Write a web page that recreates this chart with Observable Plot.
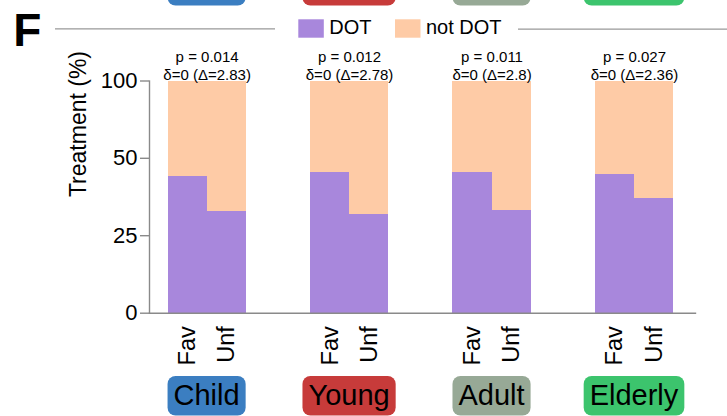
<!DOCTYPE html>
<html>
<head>
<meta charset="utf-8">
<script src="https://cdn.jsdelivr.net/npm/d3@7"></script>
<script src="https://cdn.jsdelivr.net/npm/@observablehq/plot@0.6"></script>
<style>
  html, body { margin: 0; padding: 0; background: #fff; overflow: hidden; }
  #chart { width: 727px; height: 416px; overflow: hidden; }
</style>
</head>
<body>
<div id="chart"></div>
<script>
// ---- data ----
const groups = ["Child", "Young", "Adult", "Elderly"];
const conditions = ["Fav", "Unf"];
const treatments = ["DOT", "not DOT"];
const dotFav = [44.1, 45.5, 45.4, 44.8];
const dotUnf = [32.9, 31.8, 33.1, 36.9];
const pValues = ["0.014", "0.012", "0.011", "0.027"];
const deltaValues = ["2.83", "2.78", "2.8", "2.36"];
const yTicks = [0, 25, 50, 100];
const panelLabel = "F";
const yLabel = "Treatment (%)";
const treatmentColors = ["#a887dc", "#fecba6"];
const groupColors = ["#3b7ec1", "#c73b3a", "#97a996", "#3cc46d"];

const rows = [];
groups.forEach((g, i) => {
  conditions.forEach((c, j) => {
    const dot = j === 0 ? dotFav[i] : dotUnf[i];
    rows.push({group: g, condition: c, treatment: treatments[0], value: dot});
    rows.push({group: g, condition: c, treatment: treatments[1], value: 100 - dot});
  });
});
const stats = groups.map((g, i) => ({group: g, label: `p = ${pValues[i]}\nδ=0 (Δ=${deltaValues[i]})`}));

// ---- layout ----
const FONT = "'Liberation Sans', Arial, Helvetica, sans-serif";
const AX = "#8a8a8a";
const W = 727, H = 416;
const yRange = [312.7, 235.2, 157.8, 80.5];
const barStep = 39.1;

const plot = Plot.plot({
  width: W, height: H,
  marginLeft: 149, marginRight: 32, marginTop: 80.5, marginBottom: H - 312.7,
  style: {fontFamily: FONT, fontSize: "15px", color: "#000", background: "#fff"},
  fx: {domain: groups, paddingInner: 0.1676, paddingOuter: 0, round: false, axis: null, label: null},
  x: {domain: conditions, paddingInner: 0, paddingOuter: 0.5166, align: 0.458, round: false, axis: null, label: null},
  y: {type: "linear", domain: yTicks, range: yRange, axis: null, label: null},
  color: {domain: treatments, range: treatmentColors},
  marks: [
    Plot.barY(rows, {fx: "group", x: "condition", y: "value", fill: "treatment", shapeRendering: "crispEdges"}),
    Plot.frame({anchor: "bottom", facet: "super", stroke: AX, strokeWidth: 1.4}),
    Plot.frame({anchor: "left", facet: "super", stroke: AX, strokeWidth: 1.4}),
    Plot.axisY({ticks: yTicks, tickSize: 9, tickPadding: 3, fontSize: 22, stroke: AX, strokeWidth: 1.4, label: null, tickFormat: d => String(d)}),
    Plot.axisX({tickRotate: -90, tickSize: 0, tickPadding: 13, fontSize: 23.5, label: null}),
    Plot.text(stats, {fx: "group", x: () => conditions[0], y: () => 100, text: "label", dx: barStep / 2, dy: -1.2, lineAnchor: "bottom", lineHeight: 1.17, fontSize: 15}),
    Plot.text([yLabel], {facet: "super", frameAnchor: "left", rotate: -90, dx: -71, fontSize: 23})
  ]
});
document.getElementById("chart").appendChild(plot);

// ---- decorations derived from the plot's scales ----
const svg = d3.select(plot);
const fxS = plot.scale("fx"), xS = plot.scale("x");
const centerOf = g => fxS.apply(g) + (xS.apply(conditions[1]) - xS.range[0]);

function drawBoxes(yTop, h, keepText) {
  groups.forEach((g, i) => {
    const cx = centerOf(g);
    const grp = svg.append("g");
    const rect = grp.append("rect");
    const t = grp.append("text")
      .attr("x", cx).attr("y", yTop + 29.3)
      .attr("text-anchor", "middle").attr("font-size", 29).attr("fill", "#000")
      .text(g);
    const w = t.node().getComputedTextLength();
    if (!keepText) t.remove();
    rect.attr("x", cx - w / 2 - 6).attr("width", w + 12)
      .attr("y", yTop).attr("height", h).attr("rx", 8).attr("fill", groupColors[i]);
  });
}
drawBoxes(376, 39.5, true);
drawBoxes(-34, 39.5, false);

// panel letter
svg.append("text").attr("x", 13.3).attr("y", 45.7).attr("text-anchor", "start")
  .attr("font-size", 46).attr("font-weight", "bold").attr("fill", "#000").text(panelLabel);

// legend with side lines
const leg = svg.append("g");
leg.append("line").attr("x1", 55).attr("x2", 275).attr("y1", 28.8).attr("y2", 28.8)
  .attr("stroke", "#999").attr("stroke-width", 1.2);
leg.append("line").attr("x1", 518).attr("x2", 727).attr("y1", 29.2).attr("y2", 29.2)
  .attr("stroke", "#999").attr("stroke-width", 1.2);
const legX = [298.3, 395];
treatments.forEach((t, i) => {
  leg.append("rect").attr("x", legX[i]).attr("y", 19.3).attr("width", 25.5).attr("height", 18.4)
    .attr("fill", treatmentColors[i]);
  leg.append("text").attr("x", legX[i] + 31).attr("y", 34.3).attr("text-anchor", "start")
    .attr("font-size", 20).attr("fill", "#000").text(t);
});
</script>
</body>
</html>
